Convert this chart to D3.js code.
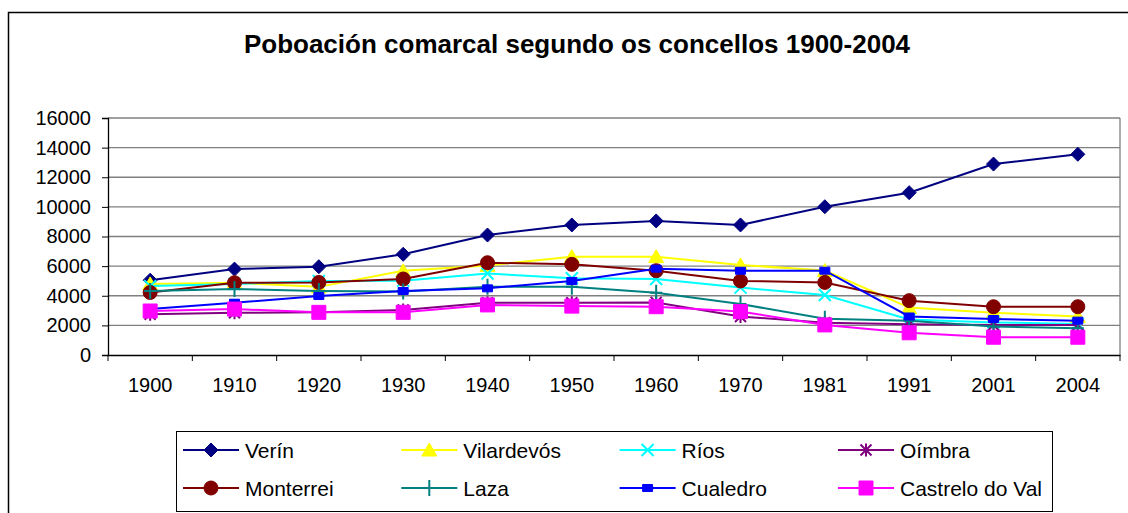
<!DOCTYPE html>
<html>
<head>
<meta charset="utf-8">
<script src="https://cdn.jsdelivr.net/npm/d3@7"></script>
<style>
  html, body { margin: 0; padding: 0; background: #fff; }
  svg { display: block; font-family: "Liberation Sans", Arial, sans-serif; }
</style>
</head>
<body>
<div id="chart"></div>
<script>
(function () {
  'use strict';

  const years = ['1900', '1910', '1920', '1930', '1940', '1950', '1960', '1970', '1981', '1991', '2001', '2004'];
  const yTicks = [0, 2000, 4000, 6000, 8000, 10000, 12000, 14000, 16000];

  const verin = [5050, 5800, 5960, 6800, 8100, 8780, 9050, 8780, 10010, 10960, 12890, 13550];
  const vilardevos = [4800, 4880, 4600, 5680, 6050, 6640, 6640, 6080, 5700, 3200, 2860, 2600];
  const rios = [4650, 4790, 5000, 5020, 5500, 5180, 5130, 4550, 4050, 2400, 2200, 2100];
  const oimbra = [2750, 2850, 2880, 3040, 3530, 3530, 3550, 2600, 2180, 2070, 2030, 2030];
  const monterrei = [4220, 4880, 4900, 5130, 6230, 6120, 5690, 5000, 4900, 3670, 3260, 3260];
  const laza = [4320, 4450, 4320, 4280, 4610, 4610, 4210, 3440, 2450, 2320, 1920, 1800];
  const cualedro = [3100, 3530, 3980, 4320, 4500, 5000, 5830, 5690, 5690, 2600, 2430, 2320];
  const castrelo = [2970, 3100, 2880, 2880, 3380, 3300, 3260, 2930, 2030, 1500, 1200, 1200];

  const seriesNames = ['Verín', 'Vilardevós', 'Ríos', 'Oímbra', 'Monterrei', 'Laza', 'Cualedro', 'Castrelo do Val'];
  const seriesValues = [verin, vilardevos, rios, oimbra, monterrei, laza, cualedro, castrelo];
  const seriesColors = ['#000080', '#ffff00', '#00ffff', '#800080', '#800000', '#008080', '#0000ff', '#ff00ff'];

  const W = 1128, H = 513;
  const PLOT = { left: 108, right: 1120, top: 118, bottom: 355 };

  // Marcadores estilo Excel
  const mk = {
    diamond: { draw(c) { const r = 7; c.moveTo(0, -r); c.lineTo(r, 0); c.lineTo(0, r); c.lineTo(-r, 0); c.closePath(); } },
    triangle: { draw(c) { c.moveTo(0, -7); c.lineTo(7.5, 6); c.lineTo(-7.5, 6); c.closePath(); } },
    times: { draw(c) { const r = 6; c.moveTo(-r, -r); c.lineTo(r, r); c.moveTo(r, -r); c.lineTo(-r, r); } },
    asterisk: { draw(c) { const r = 5.5; c.moveTo(-r, -r); c.lineTo(r, r); c.moveTo(r, -r); c.lineTo(-r, r); c.moveTo(0, -r - 1); c.lineTo(0, r + 1); } },
    circle: { draw(c) { const r = 7; c.moveTo(r, 0); c.arc(0, 0, r, 0, 2 * Math.PI); } },
    plus: { draw(c) { c.moveTo(0, -8); c.lineTo(0, 8); c.moveTo(-6, 0); c.lineTo(6, 0); } },
    smallSquare: { draw(c) { c.rect(-5, -3.5, 10, 7); } },
    square: { draw(c) { c.rect(-7, -7, 14, 14); } }
  };
  const seriesMarkers = ['diamond', 'triangle', 'times', 'asterisk', 'circle', 'plus', 'smallSquare', 'square'];
  const strokeOnly = { times: true, asterisk: true, plus: true };

  const svg = d3.select('#chart').append('svg')
    .attr('width', W)
    .attr('height', H);

  // Marco exterior
  svg.append('rect')
    .attr('x', 8.5).attr('y', 12.5)
    .attr('width', 1140).attr('height', 520)
    .attr('fill', '#fff')
    .attr('stroke', '#000')
    .attr('stroke-width', 1.5);

  // Título
  svg.append('text')
    .attr('x', 577).attr('y', 53)
    .attr('text-anchor', 'middle')
    .attr('font-weight', 'bold')
    .attr('font-size', 26)
    .text('Poboación comarcal segundo os concellos 1900-2004');

  const x = d3.scaleBand().domain(years).range([PLOT.left, PLOT.right]);
  const y = d3.scaleLinear().domain([0, 16000]).range([PLOT.bottom, PLOT.top]);

  // Liñas de grella
  svg.append('g')
    .selectAll('line')
    .data(yTicks.filter(d => d > 0))
    .join('line')
    .attr('x1', PLOT.left).attr('x2', PLOT.right)
    .attr('y1', d => y(d)).attr('y2', d => y(d))
    .attr('stroke', '#808080')
    .attr('stroke-width', 1.3);

  // Bordo dereito da área
  svg.append('line')
    .attr('x1', PLOT.right).attr('x2', PLOT.right)
    .attr('y1', PLOT.top).attr('y2', PLOT.bottom)
    .attr('stroke', '#808080')
    .attr('stroke-width', 1.3);

  // Eixo Y
  const yAxis = svg.append('g')
    .attr('transform', `translate(${PLOT.left},0)`)
    .call(d3.axisLeft(y).tickValues(yTicks).tickSize(6).tickPadding(11).tickFormat(d3.format('d')));
  yAxis.select('.domain').attr('stroke', '#000').attr('stroke-width', 1.3);
  yAxis.selectAll('.tick line').attr('stroke', '#000');
  yAxis.selectAll('text').attr('font-size', 20).attr('font-family', null).attr('fill', '#000');

  // Eixo X (etiquetas no centro, marcas entre categorías)
  const xAxis = svg.append('g')
    .attr('transform', `translate(0,${PLOT.bottom})`)
    .call(d3.axisBottom(x).tickSize(0).tickPadding(23));
  xAxis.select('.domain').attr('stroke', '#000').attr('stroke-width', 1.3);
  xAxis.selectAll('text').attr('font-size', 20).attr('font-family', null).attr('fill', '#000');

  const bounds = years.map(d => x(d)).concat([x(years[years.length - 1]) + x.step()]);
  svg.append('g')
    .selectAll('line')
    .data(bounds)
    .join('line')
    .attr('x1', d => d).attr('x2', d => d)
    .attr('y1', PLOT.bottom).attr('y2', PLOT.bottom + 6)
    .attr('stroke', '#000');

  const cx = d => x(d) + x.bandwidth() / 2;
  const line = d3.line()
    .x((d, i) => cx(years[i]))
    .y(d => y(d));

  // Series
  seriesValues.forEach((vals, si) => {
    const color = seriesColors[si];
    const g = svg.append('g');
    g.append('path')
      .datum(vals)
      .attr('d', line)
      .attr('fill', 'none')
      .attr('stroke', color)
      .attr('stroke-width', 2);
    const sym = d3.symbol().type(mk[seriesMarkers[si]]);
    g.selectAll('path.m')
      .data(vals)
      .join('path')
      .attr('class', 'm')
      .attr('transform', (d, i) => `translate(${cx(years[i])},${y(d)})`)
      .attr('d', sym)
      .attr('fill', strokeOnly[seriesMarkers[si]] ? 'none' : color)
      .attr('stroke', color)
      .attr('stroke-width', strokeOnly[seriesMarkers[si]] ? 2 : 1);
  });

  // Lenda
  const legend = svg.append('g');
  legend.append('rect')
    .attr('x', 176.5).attr('y', 431.5)
    .attr('width', 876).attr('height', 80)
    .attr('fill', '#fff')
    .attr('stroke', '#000')
    .attr('stroke-width', 1);

  const colX = [183, 401.3, 619.6, 838];
  const rowY = [450, 488];
  seriesNames.forEach((name, si) => {
    const lx = colX[si % 4];
    const ly = rowY[Math.floor(si / 4)];
    const color = seriesColors[si];
    const it = legend.append('g');
    it.append('line')
      .attr('x1', lx).attr('x2', lx + 56)
      .attr('y1', ly).attr('y2', ly)
      .attr('stroke', color)
      .attr('stroke-width', 2);
    it.append('path')
      .attr('transform', `translate(${lx + 28},${ly})`)
      .attr('d', d3.symbol().type(mk[seriesMarkers[si]]))
      .attr('fill', strokeOnly[seriesMarkers[si]] ? 'none' : color)
      .attr('stroke', color)
      .attr('stroke-width', strokeOnly[seriesMarkers[si]] ? 2 : 1);
    it.append('text')
      .attr('x', lx + 62)
      .attr('y', ly)
      .attr('dy', '0.36em')
      .attr('font-size', 21)
      .text(name);
  });
})();
</script>
</body>
</html>
